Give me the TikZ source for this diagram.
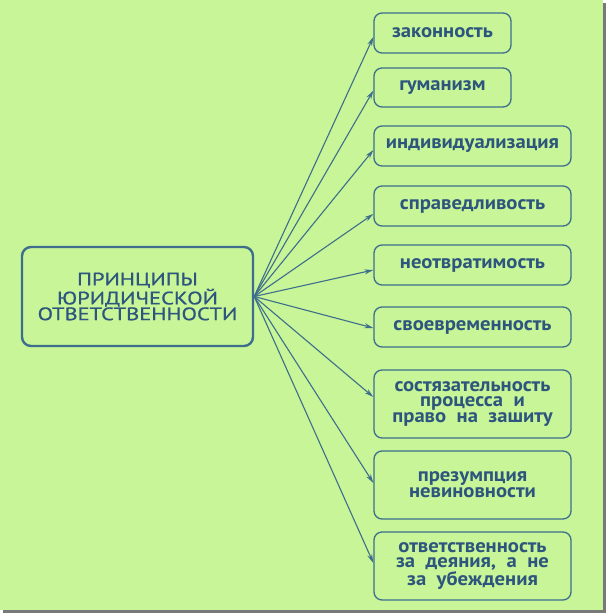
\documentclass[tikz,border=0pt]{standalone}
\usepackage{fontspec}
\setmainfont{PT Sans}
\newfontfamily\boxfont[FakeStretch=1.07]{PT Sans Bold}
\newfontfamily\mainfont[FakeStretch=1.25,FakeBold=0.8]{PT Sans}
\usetikzlibrary{arrows.meta}
\definecolor{bgc}{RGB}{199,245,152}
\definecolor{linec}{RGB}{62,110,140}
\definecolor{textc}{RGB}{45,85,125}
\definecolor{shadowc}{RGB}{120,120,120}
\tikzset{
  itembox/.style={draw=linec, line width=1.3pt, rounded corners=8pt, text=textc,
    font=\boxfont\fontsize{19.3}{15.8}\selectfont, align=center, inner sep=0pt},
  mainbox/.style={draw=linec, line width=2.4pt, rounded corners=9pt, text=textc,
    font=\mainfont\fontsize{18}{15.8}\selectfont, align=center, inner sep=0pt},
  conn/.style={draw=linec, line width=1.1pt, -{Stealth[length=9pt,width=5pt]}}
}
\begin{document}
\begin{tikzpicture}[x=1pt,y=-1pt]
\useasboundingbox (0,0) rectangle (606,616);
\fill[white] (0,0) rectangle (606,616);
\fill[shadowc] (3,3) rectangle (606,613);
\fill[bgc] (0,0) rectangle (603,610);
\node[mainbox, minimum width=231pt, minimum height=99pt] (m) at (137.5,296.5)
  {ПРИНЦИПЫ\\ЮРИДИЧЕСКОЙ\\ОТВЕТСТВЕННОСТИ};
\node[itembox, minimum width=137pt, minimum height=40pt] (b1) at (442.5,33) {законность};
\node[itembox, minimum width=137pt, minimum height=39pt] (b2) at (442.5,87.5) {гуманизм};
\node[itembox, minimum width=197pt, minimum height=40pt] (b3) at (472.5,146) {индивидуализация};
\node[itembox, minimum width=197pt, minimum height=40pt] (b4) at (472.5,206) {справедливость};
\node[itembox, minimum width=197pt, minimum height=40pt] (b5) at (472.5,265) {неотвратимость};
\node[itembox, minimum width=197pt, minimum height=40pt] (b6) at (472.5,327) {своевременность};
\node[itembox, minimum width=197pt, minimum height=68pt] (b7) at (472.5,404) {состязательность\\процесса\ \ и\\право\ \ на\ \ зашиту};
\node[itembox, minimum width=197pt, minimum height=68pt] (b8) at (472.5,485) {презумпция\\невиновности};
\node[itembox, minimum width=197pt, minimum height=68pt] (b9) at (472.5,566) {ответственность\\за\ \ деяния,\ \ а\ \ не\\за\ \ убеждения};
\coordinate (o) at (m.east);
\draw[conn] (o) -- ([yshift=-4pt]b1.west);
\draw[conn] (o) -- ([yshift=-3pt]b2.west);
\draw[conn] (o) -- ([yshift=-4pt]b3.west);
\draw[conn] (o) -- ([yshift=-8pt]b4.west);
\draw[conn] (o) -- ([yshift=-5pt]b5.west);
\draw[conn] (o) -- ([yshift=-1pt]b6.west);
\draw[conn] (o) -- ([yshift=7pt]b7.west);
\draw[conn] (o) -- ([yshift=2pt]b8.west);
\draw[conn] (o) -- ([yshift=3pt]b9.west);
\end{tikzpicture}
\end{document}
